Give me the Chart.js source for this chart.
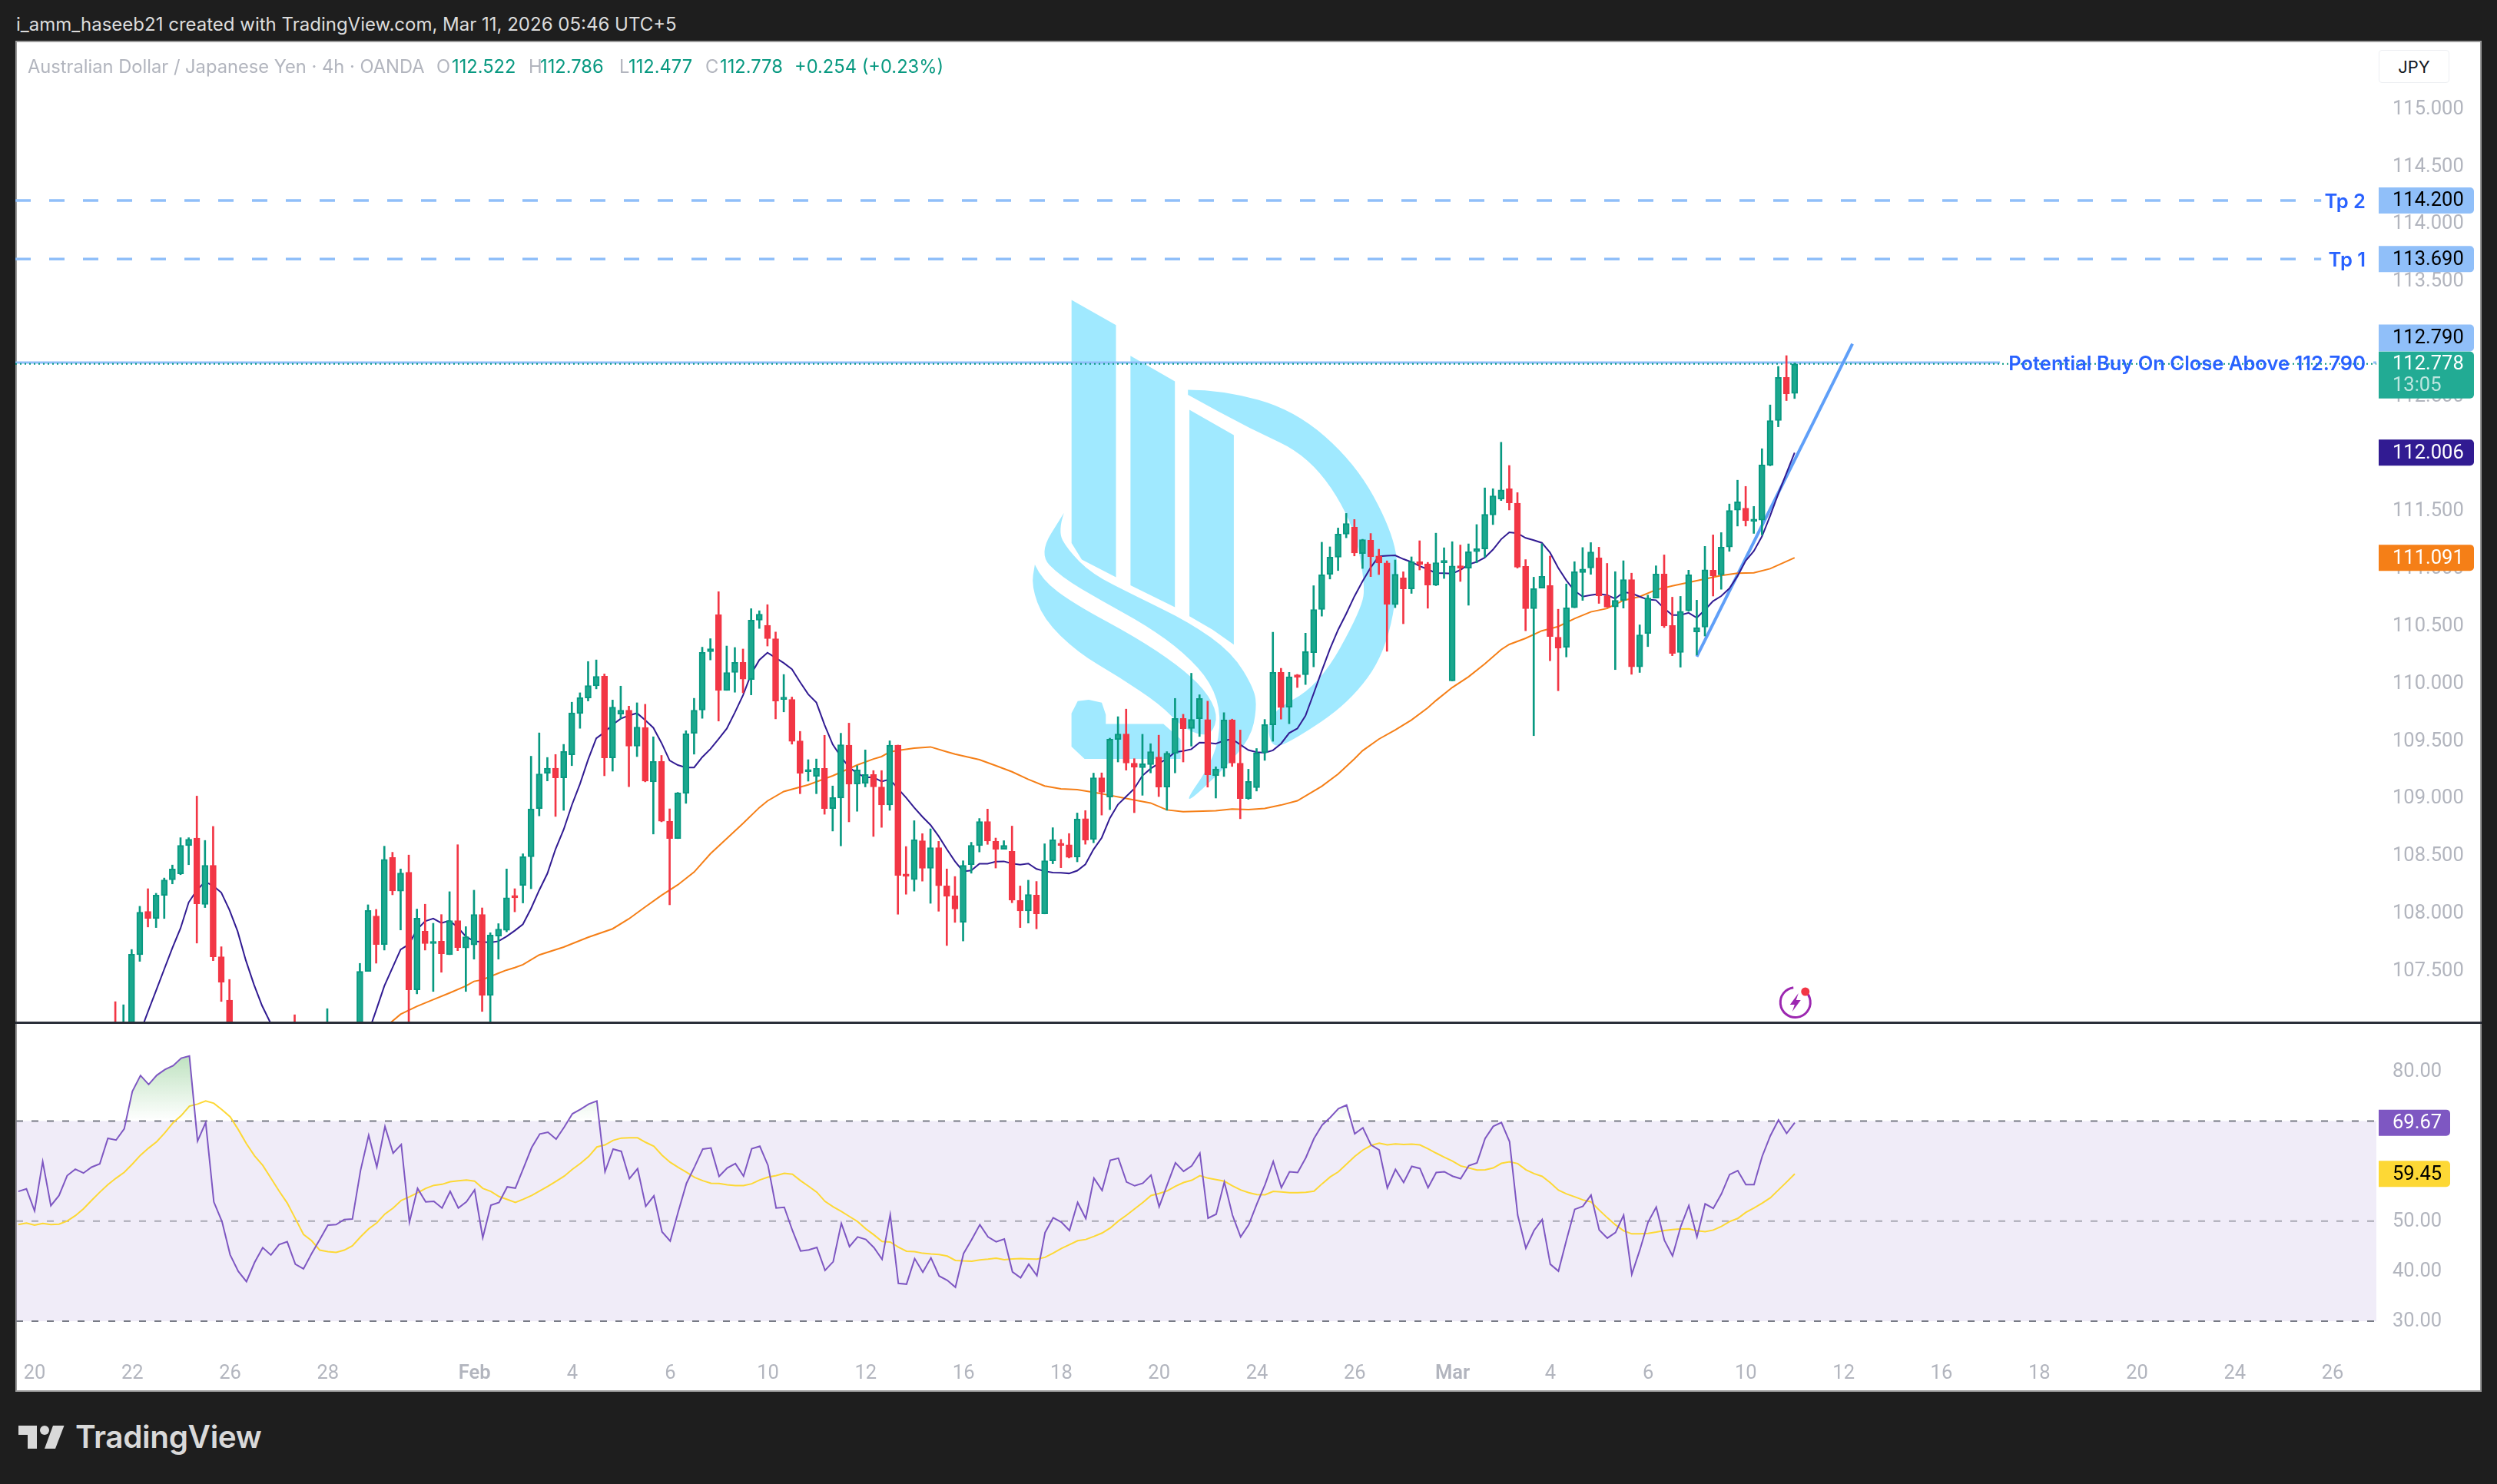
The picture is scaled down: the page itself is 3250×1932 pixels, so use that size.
<!DOCTYPE html>
<html>
<head>
<meta charset="utf-8">
<title>AUD/JPY 4h</title>
<script src="https://cdn.jsdelivr.net/npm/chart.js@4"></script>
<style>
    html, body { margin: 0; padding: 0; width: 3250px; height: 1932px; overflow: hidden; background: #1e1e1e; font-family: Inter, sans-serif; }
    .abs { position: absolute; white-space: nowrap; }
    #frame { left: 20px; top: 53px; width: 3210px; height: 1759px; box-sizing: border-box; background: #fff; border: 2px solid #9a9a9a; }
    #divider { left: 20px; top: 1330px; width: 3210px; height: 3px; background: #2a2e39; z-index: 3; }
    #mainCanvas { position: absolute; left: 20px; top: 54px; z-index: 2; }
    #rsiCanvas { position: absolute; left: 20px; top: 1333px; z-index: 2; }
    #header { left: 21px; top: 18px; font-size: 24px; line-height: 28px; color: #dcdcdc; }
    .legend { top: 73px; font-size: 23.7px; line-height: 28px; color: #b2b5be; z-index: 4; }
    .legend.val { color: #089981; }
    #jpy { left: 3096px; top: 65px; width: 92px; height: 43px; line-height: 43px; text-align: center; font-size: 22px; color: #131722; background: #fff; box-sizing: border-box; border: 1px solid #eceef2; border-radius: 4px; z-index: 4; }
    #brand { left: 98px; top: 1846px; font-size: 40.5px; line-height: 50px; font-weight: 600; color: #d9d9d9; letter-spacing: -0.4px; }
    #brandIcon { position: absolute; left: 24px; top: 1856px; }
</style>
</head>
<body>
<div id="header" class="abs">i_amm_haseeb21 created with TradingView.com, Mar 11, 2026 05:46 UTC+5</div>
<div id="frame" class="abs"></div>
<div class="abs legend" style="left:36px">Australian Dollar / Japanese Yen · 4h · OANDA</div>
<div class="abs legend" style="left:568px">O</div><div class="abs legend val" style="left:588px">112.522</div>
<div class="abs legend" style="left:688px">H</div><div class="abs legend val" style="left:703px">112.786</div>
<div class="abs legend" style="left:806px">L</div><div class="abs legend val" style="left:818px">112.477</div>
<div class="abs legend" style="left:918px">C</div><div class="abs legend val" style="left:937px">112.778</div>
<div class="abs legend val" style="left:1034px">+0.254 (+0.23%)</div>
<div id="jpy" class="abs">JPY</div>
<canvas id="mainCanvas" width="3210" height="1277"></canvas>
<div id="divider" class="abs"></div>
<canvas id="rsiCanvas" width="3210" height="478"></canvas>
<svg id="brandIcon" width="60" height="30" viewBox="0 0 60 30"><path fill="#d9d9d9" d="M0 0H24V30H12V12H0Z"/><circle fill="#d9d9d9" cx="34" cy="6" r="6"/><path fill="#d9d9d9" d="M45 0H59.5L48 30H34Z"/></svg>
<div id="brand" class="abs">TradingView</div>

<script>
// Bars are numbered so that bar 0 is the "20" date tick, last bar is 216
const firstRsiBar = -2;
const firstCandleBar = 10;
const lastBar = 216;

const timeBars = [0, 12, 24, 36, 54, 66, 78, 90, 102, 114, 126, 138, 150, 162, 174, 186, 198, 210, 222, 234, 246, 258, 270, 282];
const timeLabels = ['20', '22', '26', '28', 'Feb', '4', '6', '10', '12', '16', '18', '20', '24', '26', 'Mar', '4', '6', '10', '12', '16', '18', '20', '24', '26'];
const priceTicks = [107.5, 108, 108.5, 109, 109.5, 110, 110.5, 111, 111.5, 112, 112.5, 113, 113.5, 114, 114.5, 115];
const rsiTicks = [30, 40, 50, 60, 70, 80];

// Candles, bar 10 onward. null = candle sits completely under the pane.
const opens = [
    106.98, 106.85, 106.95, 107.637, 108.013, 107.952, 108.153, 108.288, 108.341, 108.586,
    108.652, 108.074, 108.415, 107.619, 107.241, null, null, null, null, null,
    null, null, 106.98, null, null, null, 106.85, null, null, null,
    106.95, 107.492, 107.973, 107.725, 108.483, 108.19, 108.354, 107.331, 107.841, 107.733,
    107.754, 107.637, 107.933, 107.696, 107.722, 107.986, 107.283, 107.799, 107.849, 108.145,
    108.24, 108.489, 108.909, 109.216, 109.26, 109.176, 109.377, 109.736, 109.871, 109.977,
    110.061, 109.35, 109.731, 109.765, 109.451, 109.615, 109.141, 109.319, 108.798, 108.647,
    109.041, 109.564, 109.765, 110.273, 110.595, 109.937, 110.093, 110.18, 110.032, 110.548,
    110.503, 110.387, 109.858, 109.858, 109.498, 109.229, 109.189, 109.258, 108.909, 109.001,
    109.461, 109.123, 109.128, 109.205, 109.097, 108.941, 109.461, 108.33, 108.29, 108.629,
    108.388, 108.568, 108.235, 108.148, 107.92, 108.42, 108.586, 108.795, 108.623, 108.555,
    108.536, 108.108, 108.018, 108.156, 107.992, 108.454, 108.595, 108.593, 108.487, 108.82,
    108.64, 109.177, 109.008, 109.51, 109.558, 109.304, 109.264, 109.291, 109.357, 109.095,
    109.388, 109.692, 109.605, 109.69, 109.682, 109.195, 109.259, 109.679, 109.304, 108.995,
    109.09, 109.394, 109.637, 110.094, 109.79, 110.062, 110.073, 110.266, 110.641, 110.948,
    111.096, 111.297, 111.358, 111.128, 111.244, 111.107, 111.046, 110.684, 110.916, 110.821,
    111.056, 111.038, 110.853, 111.048, 110.02, 111.022, 111.001, 111.144, 111.167, 111.464,
    111.602, 111.692, 111.566, 111.016, 110.648, 110.827, 110.85, 110.4, 110.313, 110.656,
    110.963, 111.003, 111.09, 110.76, 110.663, 110.72, 110.901, 110.141, 110.433, 110.74,
    110.95, 110.502, 110.267, 110.63, 110.446, 110.487, 110.983, 110.942, 111.185, 111.505,
    111.523, 111.408, 111.418, 111.896, 112.285, 112.661, 112.522
];
const highs = [
    107.228, 107.201, 107.682, 108.058, 108.211, 108.171, 108.304, 108.417, 108.655, 108.655,
    109.017, 108.631, 108.753, 107.706, 107.421, null, null, null, null, null,
    null, null, 107.114, null, null, null, 107.167, null, null, null,
    107.561, 108.071, 108.031, 108.581, 108.528, 108.383, 108.504, 108.034, 108.076, 107.91,
    107.986, 108.185, 108.594, 107.881, 108.198, 108.044, 107.828, 107.907, 108.383, 108.211,
    108.515, 109.364, 109.567, 109.353, 109.379, 109.467, 109.834, 109.916, 110.188, 110.202,
    110.08, 109.853, 109.974, 109.8, 109.829, 109.816, 109.533, 109.371, 108.906, 109.049,
    109.586, 109.868, 110.313, 110.387, 110.796, 110.323, 110.31, 110.297, 110.648, 110.63,
    110.683, 110.445, 110.075, 109.879, 109.58, 109.334, 109.34, 109.546, 109.105, 109.564,
    109.652, 109.282, 109.419, 109.239, 109.239, 109.498, 109.461, 108.578, 108.803, 108.69,
    108.732, 108.623, 108.383, 108.317, 108.454, 108.615, 108.822, 108.904, 108.652, 108.629,
    108.756, 108.235, 108.285, 108.274, 108.602, 108.742, 108.64, 108.691, 108.87, 108.891,
    109.217, 109.219, 109.521, 109.708, 109.774, 109.343, 109.555, 109.473, 109.547, 109.404,
    109.867, 109.729, 110.086, 109.899, 109.843, 109.272, 109.743, 109.687, 109.592, 109.251,
    109.431, 109.684, 110.443, 110.129, 110.094, 110.076, 110.435, 110.848, 111.226, 111.186,
    111.35, 111.477, 111.424, 111.252, 111.302, 111.165, 111.064, 111.072, 110.969, 111.099,
    111.239, 111.051, 111.305, 111.178, 111.231, 111.202, 111.212, 111.38, 111.699, 111.692,
    112.096, 111.894, 111.658, 111.075, 110.922, 111.213, 111.106, 110.643, 110.863, 111.057,
    111.18, 111.223, 111.183, 111.042, 110.97, 111.065, 110.957, 110.507, 110.766, 111.021,
    111.116, 110.748, 110.755, 110.983, 110.722, 111.19, 111.29, 111.31, 111.559, 111.766,
    111.712, 111.538, 112.04, 112.421, 112.756, 112.85, 112.786
];
const lows = [
    106.85, 106.8, 106.9, 107.579, 107.878, 107.873, 107.952, 108.253, 108.333, 108.42,
    107.738, 108.047, 107.585, 107.23, 106.9, null, null, null, null, null,
    null, null, 106.8, null, null, null, 106.8, null, null, null,
    106.9, 107.492, 107.563, 107.677, 108.158, 107.852, 106.95, 107.296, 107.677, 107.317,
    107.484, 107.637, 107.672, 107.317, 107.598, 107.143, 106.95, 107.598, 107.836, 108.01,
    108.087, 108.211, 108.845, 109.149, 108.84, 108.893, 109.282, 109.607, 109.845, 109.95,
    109.194, 109.234, 109.691, 109.099, 109.361, 109.141, 108.687, 108.793, 108.071, 108.647,
    108.954, 109.382, 109.694, 110.202, 109.67, 109.937, 109.921, 109.916, 109.898, 110.476,
    110.323, 109.689, 109.75, 109.469, 109.038, 109.147, 109.038, 108.859, 108.713, 108.584,
    108.793, 108.885, 109.097, 108.666, 108.745, 108.893, 107.989, 108.163, 108.19, 108.277,
    108.084, 108.015, 107.717, 107.918, 107.756, 108.346, 108.531, 108.597, 108.391, 108.555,
    108.089, 107.873, 107.912, 107.862, 107.992, 108.428, 108.394, 108.479, 108.445, 108.598,
    108.611, 108.852, 108.899, 109.314, 109.243, 108.873, 109.024, 109.219, 109.013, 108.894,
    109.219, 109.314, 109.452, 109.536, 109.095, 109.0, 109.188, 109.275, 108.82, 108.989,
    109.061, 109.328, 109.494, 109.687, 109.647, 109.962, 109.988, 110.142, 110.583, 110.906,
    110.98, 111.265, 111.107, 110.998, 110.927, 110.945, 110.277, 110.657, 110.517, 110.781,
    110.985, 110.652, 110.848, 110.911, 110.02, 110.885, 110.678, 111.047, 111.096, 111.38,
    111.589, 111.507, 111.001, 110.456, 109.543, 110.827, 110.195, 109.934, 110.228, 110.656,
    110.72, 110.947, 110.694, 110.661, 110.118, 110.653, 110.077, 110.093, 110.318, 110.74,
    110.484, 110.239, 110.139, 110.625, 110.246, 110.41, 110.758, 110.817, 111.147, 111.367,
    111.367, 111.303, 111.29, 111.891, 112.231, 112.459, 112.477
];
const closes = [
    106.9, 106.98, 107.64, 108.007, 107.952, 108.156, 108.288, 108.383, 108.589, 108.642,
    108.079, 108.415, 107.619, 107.397, 106.95, null, null, null, null, null,
    null, null, 106.9, null, null, null, 106.98, null, null, null,
    107.492, 108.021, 107.725, 108.467, 108.192, 108.348, 107.331, 107.955, 107.733, 107.748,
    107.645, 107.933, 107.698, 107.793, 107.986, 107.283, 107.807, 107.86, 108.132, 108.132,
    108.489, 108.906, 109.21, 109.26, 109.176, 109.406, 109.742, 109.874, 109.979, 110.059,
    109.35, 109.792, 109.765, 109.451, 109.617, 109.147, 109.319, 108.798, 108.647, 109.044,
    109.559, 109.765, 110.268, 110.299, 109.937, 110.093, 110.18, 110.035, 110.548, 110.601,
    110.387, 109.845, 109.866, 109.493, 109.216, 109.239, 109.258, 108.909, 109.004, 109.464,
    109.12, 109.245, 109.205, 109.097, 108.941, 109.461, 108.327, 108.319, 108.637, 108.388,
    108.568, 108.237, 108.145, 108.034, 108.415, 108.589, 108.795, 108.626, 108.555, 108.589,
    108.111, 108.018, 108.161, 107.992, 108.454, 108.637, 108.587, 108.484, 108.817, 108.635,
    109.177, 109.05, 109.513, 109.558, 109.304, 109.267, 109.299, 109.404, 109.095, 109.391,
    109.692, 109.603, 109.684, 109.867, 109.203, 109.254, 109.679, 109.304, 108.995, 109.145,
    109.394, 109.639, 110.094, 109.788, 110.055, 110.052, 110.274, 110.641, 110.943, 111.096,
    111.297, 111.389, 111.133, 111.249, 111.101, 111.046, 110.686, 110.948, 110.821, 111.056,
    111.033, 110.853, 111.048, 111.062, 111.019, 111.001, 111.144, 111.17, 111.469, 111.63,
    111.681, 111.569, 111.009, 110.648, 110.822, 110.929, 110.405, 110.305, 110.656, 110.97,
    110.993, 111.142, 110.76, 110.661, 110.72, 110.901, 110.141, 110.42, 110.74, 110.95,
    110.497, 110.259, 110.625, 110.942, 110.484, 110.986, 110.932, 111.183, 111.502, 111.577,
    111.413, 111.418, 111.899, 112.285, 112.661, 112.518, 112.778
];

// Fast moving average (blue), per bar. null = under the pane.
const fastMaFirstBar = 13;
const fastMa = [
    106.95, 107.14, 107.325, 107.511, 107.696, 107.867, 108.092, 108.198, 108.272, 108.237,
    108.177, 108.026, 107.841, 107.59, 107.378, 107.193, 107.048, 106.88, null, null,
    null, null, null, null, null, null, null, null, 106.95, 107.154,
    107.365, 107.524, 107.682, 107.727, 107.854, 107.928, 107.952, 107.912, 107.933, 107.875,
    107.796, 107.754, 107.748, 107.743, 107.754, 107.796, 107.846, 107.902, 108.039, 108.198,
    108.343, 108.555, 108.726, 108.938, 109.123, 109.335, 109.52, 109.572, 109.638, 109.691,
    109.718, 109.739, 109.678, 109.612, 109.48, 109.327, 109.287, 109.266, 109.266, 109.356,
    109.427, 109.514, 109.604, 109.744, 109.895, 110.08, 110.202, 110.265, 110.22, 110.175,
    110.122, 110.009, 109.903, 109.831, 109.638, 109.467, 109.361, 109.268, 109.216, 109.181,
    109.181, 109.144, 109.163, 109.083, 109.004, 108.917, 108.838, 108.766, 108.668, 108.555,
    108.449, 108.362, 108.37, 108.428, 108.428, 108.446, 108.449, 108.43, 108.42, 108.43,
    108.383, 108.364, 108.351, 108.35, 108.344, 108.368, 108.423, 108.553, 108.654, 108.825,
    108.944, 109.013, 109.082, 109.195, 109.256, 109.301, 109.341, 109.399, 109.409, 109.425,
    109.483, 109.481, 109.473, 109.499, 109.513, 109.465, 109.417, 109.399, 109.394, 109.415,
    109.473, 109.566, 109.605, 109.716, 109.909, 110.107, 110.298, 110.464, 110.604, 110.755,
    110.887, 111.006, 111.104, 111.109, 111.112, 111.08, 111.054, 111.019, 110.99, 110.959,
    110.956, 110.953, 110.985, 111.033, 111.055, 111.093, 111.162, 111.252, 111.313, 111.305,
    111.264, 111.244, 111.221, 111.136, 111.003, 110.894, 110.804, 110.753, 110.766, 110.776,
    110.766, 110.735, 110.791, 110.783, 110.753, 110.727, 110.722, 110.65, 110.592, 110.592,
    110.612, 110.569, 110.638, 110.714, 110.758, 110.824, 110.932, 111.065, 111.149, 111.277,
    111.456, 111.648, 111.827, 112.006
];

// Slow moving average (orange), read at its bends
const slowMaBars = [
    43, 45, 47, 49, 51, 53, 54, 55, 57, 58, 59, 60, 62, 65, 68, 71, 73, 75, 77, 79, 81, 83, 85, 87, 89, 90, 92, 95, 98,
    101, 103, 104, 105, 106, 108, 110, 112, 113, 116, 118, 120, 122, 124, 126, 128, 130, 132, 134, 137, 139, 141, 145,
    147, 149, 151, 153, 155, 158, 160, 162, 163, 165, 167, 169, 171, 172, 174, 176, 178, 180, 181, 183, 185, 187, 189,
    191, 193, 195, 197, 199, 201, 203, 205, 207, 209, 211, 213, 215, 216
];
const slowMa = [
    107.0, 107.119, 107.188, 107.246, 107.304, 107.365, 107.405, 107.418, 107.476, 107.503, 107.524, 107.55, 107.635,
    107.703, 107.788, 107.862, 107.949, 108.052, 108.153, 108.245, 108.356, 108.515, 108.647, 108.779, 108.917, 108.975,
    109.057, 109.115, 109.194, 109.287, 109.34, 109.361, 109.401, 109.414, 109.435, 109.445, 109.403, 109.382, 109.334,
    109.282, 109.229, 109.163, 109.105, 109.08, 109.074, 109.05, 109.024, 108.997, 108.957, 108.897, 108.881, 108.889,
    108.905, 108.899, 108.91, 108.939, 108.976, 109.103, 109.209, 109.341, 109.412, 109.513, 109.592, 109.679, 109.785,
    109.848, 109.962, 110.055, 110.168, 110.292, 110.337, 110.39, 110.456, 110.492, 110.561, 110.62, 110.65, 110.72,
    110.753, 110.812, 110.847, 110.876, 110.906, 110.937, 110.957, 110.96, 110.996, 111.06, 111.091
];

// RSI and its moving average, per bar from bar -2
const rsi = [
    55.94, 56.45, 52.06, 61.91, 53.08, 55.12, 59.10, 60.38, 59.61, 60.79, 61.45, 66.55,
    66.20, 68.44, 75.95, 79.11, 77.32, 79.16, 80.29, 81.05, 82.58, 82.99, 65.99, 69.72,
    53.84, 49.91, 43.28, 39.96, 37.92, 41.75, 44.71, 43.23, 45.32, 45.88, 41.39, 40.47,
    43.53, 46.34, 49.20, 49.30, 50.32, 50.42, 60.12, 67.17, 60.84, 68.90, 63.59, 65.33,
    49.81, 56.55, 53.84, 53.97, 52.62, 55.94, 52.62, 53.89, 56.24, 46.70, 53.18, 53.74,
    56.85, 56.60, 60.63, 64.70, 67.42, 67.78, 66.40, 68.80, 71.45, 72.37, 73.39, 74.01,
    59.87, 64.41, 63.95, 58.49, 60.48, 52.97, 55.07, 47.87, 46.03, 51.95, 57.57, 60.89,
    64.41, 64.61, 58.95, 60.63, 61.50, 58.99, 64.46, 64.97, 61.14, 52.62, 52.77, 48.13,
    44.04, 44.25, 44.76, 40.16, 41.90, 49.56, 44.91, 46.85, 46.34, 44.71, 42.36, 51.29,
    37.56, 37.41, 42.51, 39.81, 42.66, 39.04, 38.17, 36.79, 43.53, 46.34, 49.30, 46.85,
    45.88, 46.44, 39.86, 38.68, 41.39, 39.09, 47.72, 50.68, 49.81, 48.13, 53.74, 50.52,
    58.59, 56.14, 62.16, 62.57, 57.82, 57.06, 57.57, 59.20, 52.87, 57.31, 61.65, 59.97,
    61.04, 63.59, 50.58, 51.39, 57.82, 51.19, 46.85, 49.30, 53.49, 57.31, 61.91, 56.70,
    59.87, 59.71, 62.67, 66.50, 69.21, 70.74, 72.47, 73.19, 67.47, 68.65, 65.23, 64.21,
    56.65, 60.33, 57.72, 60.94, 60.53, 56.70, 59.71, 59.87, 58.99, 58.49, 61.09, 61.65,
    66.50, 68.95, 69.72, 65.89, 51.19, 44.60, 48.13, 50.32, 41.39, 40.01, 46.34, 52.36,
    52.97, 55.22, 48.23, 46.60, 47.72, 51.19, 39.35, 44.30, 49.81, 52.82, 46.19, 43.07,
    48.89, 53.13, 46.85, 53.45, 52.55, 55.45, 59.30, 60.09, 57.30, 57.30, 62.94, 67.05,
    70.22, 67.53, 69.67
];
const rsiMa = [
    49.30, 49.61, 49.20, 49.56, 49.30, 49.40, 50.02, 51.09, 52.46, 54.15, 55.78, 57.31,
    58.59, 59.76, 61.40, 63.18, 64.61, 65.89, 67.68, 69.67, 71.10, 72.99, 73.39, 74.01,
    73.55, 72.27, 70.84, 68.29, 65.48, 63.03, 61.14, 58.59, 56.04, 53.64, 50.53, 47.36,
    46.08, 44.20, 43.89, 43.74, 44.20, 45.06, 46.85, 48.48, 49.66, 51.44, 52.62, 54.15,
    54.86, 55.68, 56.55, 57.16, 57.36, 57.88, 58.08, 58.23, 57.98, 56.55, 55.94, 54.92,
    54.35, 53.74, 54.40, 55.12, 56.04, 56.96, 57.98, 59.00, 60.38, 61.55, 62.93, 64.82,
    65.23, 66.15, 66.60, 66.66, 66.66, 65.74, 64.97, 63.18, 61.76, 60.73, 59.76, 58.74,
    58.08, 57.57, 57.52, 57.26, 57.11, 57.11, 57.47, 58.23, 58.79, 59.10, 59.56, 59.36,
    58.08, 56.96, 55.78, 53.95, 52.87, 51.95, 50.93, 49.91, 48.48, 47.26, 45.93, 45.83,
    44.81, 43.99, 43.89, 43.58, 43.43, 43.33, 43.02, 42.15, 42.05, 42.00, 42.26, 42.41,
    42.61, 42.31, 42.46, 42.51, 42.46, 42.41, 42.77, 43.63, 44.55, 45.32, 46.08, 46.34,
    46.95, 47.62, 48.64, 50.02, 51.19, 52.46, 53.74, 55.12, 55.53, 56.04, 56.96, 57.72,
    58.18, 59.10, 58.59, 58.28, 57.98, 57.06, 56.24, 55.68, 55.32, 55.27, 55.94, 55.83,
    55.68, 55.68, 55.78, 55.99, 57.47, 58.85, 59.87, 61.40, 62.93, 64.21, 65.12, 65.58,
    65.23, 65.43, 65.33, 65.38, 65.23, 64.46, 63.59, 62.78, 62.01, 61.04, 60.63, 60.22,
    60.27, 60.63, 61.55, 61.86, 61.50, 60.27, 59.51, 58.95, 57.67, 56.19, 55.43, 54.86,
    54.25, 53.84, 52.21, 50.68, 49.25, 48.08, 47.46, 47.46, 47.56, 47.82, 48.13, 48.33,
    48.43, 48.48, 48.07, 47.91, 48.22, 48.96, 49.91, 50.54, 51.76, 52.65, 53.60, 54.66,
    56.24, 57.82, 59.45
];

// Drawn levels and the trend ray
const tp2Level = 114.2;
const tp1Level = 113.69;
const buyLevel = 112.79;
const lastPrice = 112.778;
const lastFastMa = 112.006;
const lastSlowMa = 111.091;
const lastRsi = 69.67;
const lastRsiMa = 59.45;
const trendBars = [204, 223.1];
const trendPrices = [110.23, 112.953];

// Axis windows. One bar is 10.61px and the plot starts 24px left of bar 0.
const barMin = -2.262;
const barMax = 287.37;
const priceMin = 107.048;
const priceMax = 115.584;
const rsiMin = 24.64;
const rsiMax = 89.265;

const GREEN = '#089981';
const GREEN_FILL = '#1ba88e';
const RED = '#f23645';
const LEVEL_BLUE = '#90bff9';
const TEXT_BLUE = '#2962ff';
const TICK_GREY = '#b2b5be';
const AXIS_WIDTH = 137;
// Roboto has even digit widths like the axis numbers in the picture
const AXIS_FONT = 'Roboto, sans-serif';
const AXIS_SIZE = 25.5;

Chart.defaults.font.family = AXIS_FONT;
Chart.defaults.font.size = AXIS_SIZE;

const perBar = (first, values) => values.map((v, i) => ({ x: first + i, y: v }));
const pairs = (xs, ys) => xs.map((x, i) => ({ x, y: ys[i] }));
const level = (value, from, to) => [{ x: from, y: value }, { x: to, y: value }];

// Floating bars for wicks and bodies, skipping candles that are off the pane
const wickData = [];
const bodyData = [];
opens.forEach((open, i) => {
    if (open === null) return;
    const bar = firstCandleBar + i;
    wickData.push({ x: bar, y: [lows[i], highs[i]] });
    bodyData.push({ x: bar, y: [open, closes[i]] });
});
const isUp = ctx => {
    if (!ctx.raw) return true;
    const i = ctx.raw.x - firstCandleBar;
    return closes[i] >= opens[i];
};

function lineSet(data, color, width, order, dash) {
    return {
        type: 'line', data, borderColor: color, borderWidth: width, borderDash: dash || [],
        pointRadius: 0, tension: 0, fill: false, order, spanGaps: false
    };
}

// Shapes of the watermark logo, in page pixels
const logoPolys = [
    [[1394.7, 390.4], [1452.5, 423.3], [1452.5, 751.6], [1408, 728.6], [1394.7, 706.9]],
    [[1471.4, 463.2], [1529.2, 496.6], [1529.2, 790.6], [1471.4, 762]],
    [[1548.1, 533.5], [1605.9, 566.4], [1605.9, 839.2], [1578.2, 819.7], [1548.1, 802.3]],
    [[1394.6, 928.7], [1402.7, 912.8], [1417, 910.9], [1434, 914.8], [1439.3, 930.6], [1439.3, 942.5], [1514.3, 942.5], [1536.6, 962.3], [1536.6, 988], [1411.6, 988], [1394.6, 972]]
];
const logoCurves = [
    // upper swoosh
    [[1384.8, 667.7], [1376.8, 691.4], [1389.3, 715], [1420.5, 746.8], [1478.6, 776.4], [1548, 810], [1603.6, 849.6], [1632.6, 897], [1635.7, 922.7], [1628, 960.3], [1594.6, 999.8], [1534.4, 1055.2], [1581, 988], [1590, 932.6], [1576.8, 889], [1541, 849.6], [1492, 814], [1434, 782.3], [1380.4, 750.7], [1351.8, 721], [1384.8, 667.7]],
    // lower swoosh
    [[1346.9, 734.9], [1355.8, 754.7], [1398.2, 786.3], [1478.6, 829.8], [1532, 865.4], [1567.9, 897], [1585.7, 930.6], [1576.8, 956.3], [1559, 956.3], [1536.6, 944.5], [1509.8, 916.8], [1456, 881], [1402.7, 849.6], [1358, 806], [1342.4, 762.6], [1346.9, 734.9]],
    // D ring
    [[1546.2, 507.4], [1590, 507.4], [1685, 533.5], [1764, 602.8], [1811.5, 689.6], [1822, 750.3], [1803.6, 850], [1756, 915], [1685, 962.8], [1653.3, 975.8], [1649.4, 928], [1716.6, 893.4], [1772, 793.6], [1777, 759], [1760, 676.6], [1704.7, 594], [1625.6, 557.3], [1546.2, 514]]
];

function drawLogo(ctx) {
    ctx.save();
    ctx.translate(-20, -54);
    ctx.fillStyle = '#a0e9ff';
    logoPolys.forEach(pts => {
        ctx.beginPath();
        pts.forEach((p, i) => (i ? ctx.lineTo(p[0], p[1]) : ctx.moveTo(p[0], p[1])));
        ctx.closePath();
        ctx.fill();
    });
    logoCurves.forEach(pts => {
        ctx.beginPath();
        ctx.moveTo(pts[0][0], pts[0][1]);
        for (let i = 1; i < pts.length - 1; i++) {
            const mx = (pts[i][0] + pts[i + 1][0]) / 2;
            const my = (pts[i][1] + pts[i + 1][1]) / 2;
            ctx.quadraticCurveTo(pts[i][0], pts[i][1], mx, my);
        }
        ctx.lineTo(pts[pts.length - 1][0], pts[pts.length - 1][1]);
        ctx.closePath();
        ctx.fill();
    });
    ctx.restore();
}

function drawTag(ctx, left, width, centerY, height, bg, lines) {
    ctx.save();
    ctx.fillStyle = bg;
    ctx.beginPath();
    ctx.roundRect(left, centerY - height / 2, width, height, [0, 5, 5, 0]);
    ctx.fill();
    ctx.font = AXIS_SIZE + 'px ' + AXIS_FONT;
    ctx.textBaseline = 'middle';
    ctx.textAlign = 'left';
    lines.forEach(l => {
        ctx.fillStyle = l.color;
        ctx.fillText(l.text, left + 18, l.y + 1);
    });
    ctx.restore();
}

// Events icon at the bottom of the price pane
function drawEventIcon(ctx, cx, cy) {
    ctx.save();
    ctx.strokeStyle = '#9c27b0';
    ctx.lineWidth = 3;
    ctx.beginPath();
    ctx.arc(cx, cy, 19.5, -0.9, Math.PI * 2 - 1.7);
    ctx.stroke();
    ctx.fillStyle = '#9c27b0';
    ctx.beginPath();
    ctx.moveTo(cx + 4, cy - 12);
    ctx.lineTo(cx - 7, cy + 3);
    ctx.lineTo(cx - 1, cy + 3);
    ctx.lineTo(cx - 4, cy + 12);
    ctx.lineTo(cx + 7, cy - 3);
    ctx.lineTo(cx + 1, cy - 3);
    ctx.closePath();
    ctx.fill();
    ctx.fillStyle = RED;
    ctx.beginPath();
    ctx.arc(cx + 13, cy - 14, 5.5, 0, Math.PI * 2);
    ctx.fill();
    ctx.restore();
}

const mainOverlay = {
    id: 'mainOverlay',
    beforeDatasetsDraw(chart) {
        drawLogo(chart.ctx);
    },
    afterDatasetsDraw(chart) {
        const { ctx, scales } = chart;
        const y = scales.y;
        ctx.save();
        ctx.font = '600 25.5px Inter, sans-serif';
        ctx.fillStyle = TEXT_BLUE;
        ctx.textAlign = 'right';
        ctx.textBaseline = 'middle';
        ctx.fillText('Tp 2', 3059, y.getPixelForValue(tp2Level) + 2);
        ctx.fillText('Tp 1', 3059, y.getPixelForValue(tp1Level) + 2);
        ctx.fillText('Potential Buy On Close Above 112.790', 3059, y.getPixelForValue(buyLevel) + 2);
        ctx.restore();
        drawEventIcon(ctx, scales.x.getPixelForValue(lastBar) + 1, 1251);
    },
    afterDraw(chart) {
        const { ctx, scales } = chart;
        const y = scales.y;
        const left = chart.chartArea.right + 3;
        const tagW = 124;
        const simple = (value, bg, color) => {
            const cy = y.getPixelForValue(value);
            drawTag(ctx, left, tagW, cy, 34, bg, [{ text: value.toFixed(3), color, y: cy }]);
        };
        simple(tp2Level, LEVEL_BLUE, '#000');
        simple(tp1Level, LEVEL_BLUE, '#000');
        simple(lastFastMa, '#311b92', '#fff');
        simple(lastSlowMa, '#f57f17', '#fff');
        // the two tags around the last price are stacked, not on their own level
        const buyY = y.getPixelForValue(buyLevel);
        drawTag(ctx, left, tagW, buyY - 32, 35, LEVEL_BLUE, [{ text: buyLevel.toFixed(3), color: '#000', y: buyY - 32 }]);
        const lastY = y.getPixelForValue(lastPrice);
        drawTag(ctx, left, tagW, lastY + 14.5, 61, '#22ab94', [
            { text: lastPrice.toFixed(3), color: '#fff', y: lastY },
            { text: '13:05', color: 'rgba(255,255,255,0.7)', y: lastY + 28 }
        ]);
    }
};

const rsiOverlay = {
    id: 'rsiOverlay',
    beforeDatasetsDraw(chart) {
        const { ctx, chartArea, scales } = chart;
        const y = scales.y;
        const top = y.getPixelForValue(70);
        const bottom = y.getPixelForValue(30);
        ctx.save();
        ctx.fillStyle = 'rgba(126,87,194,0.115)';
        ctx.fillRect(chartArea.left, top, chartArea.width, bottom - top);
        ctx.lineWidth = 2;
        ctx.setLineDash([9, 11]);
        [[70, '#787b86'], [50, 'rgba(120,123,134,0.6)'], [30, '#787b86']].forEach(([value, color]) => {
            const py = y.getPixelForValue(value);
            ctx.strokeStyle = color;
            ctx.beginPath();
            ctx.moveTo(chartArea.left, py);
            ctx.lineTo(chartArea.right, py);
            ctx.stroke();
        });
        ctx.restore();
    },
    afterDraw(chart) {
        const { ctx, scales } = chart;
        const y = scales.y;
        const left = chart.chartArea.right + 3;
        const tag = (value, bg, color) => {
            const cy = y.getPixelForValue(value);
            drawTag(ctx, left, 93, cy, 34, bg, [{ text: value.toFixed(2), color, y: cy }]);
        };
        tag(lastRsi, '#7e57c2', '#fff');
        tag(lastRsiMa, '#fdd835', '#000');
    }
};

// Right axis with a fixed width so both panes line up
function fixedRightAxis(min, max, ticks, digits) {
    return {
        type: 'linear', position: 'right', min, max, bounds: 'data',
        grid: { display: false, drawTicks: false },
        border: { display: false },
        afterBuildTicks: axis => { axis.ticks = ticks.map(value => ({ value })); },
        afterFit: axis => {
            axis.width = AXIS_WIDTH;
            axis.paddingTop = 0;
            axis.paddingBottom = 0;
        },
        ticks: {
            color: TICK_GREY, padding: 21, autoSkip: false, crossAlign: 'near', labelOffset: 1,
            callback: v => Number(v).toFixed(digits)
        }
    };
}

const sharedOptions = {
    responsive: false,
    animation: false,
    events: [],
    layout: { padding: 0 },
    plugins: { legend: { display: false }, tooltip: { enabled: false } }
};

const mainChart = new Chart(document.getElementById('mainCanvas'), {
    type: 'bar',
    data: {
        datasets: [
            { label: 'wick', data: wickData, barThickness: 2, grouped: false, order: 2, borderWidth: 0,
              backgroundColor: ctx => (isUp(ctx) ? GREEN : RED) },
            { label: 'body', data: bodyData, barThickness: 8, grouped: false, order: 1, minBarLength: 3,
              borderWidth: 2, borderSkipped: false,
              backgroundColor: ctx => (isUp(ctx) ? GREEN_FILL : RED),
              borderColor: ctx => (isUp(ctx) ? GREEN : RED) },
            lineSet(perBar(fastMaFirstBar, fastMa), '#311b92', 2, 3),
            lineSet(pairs(slowMaBars, slowMa), '#f57f17', 2, 4),
            lineSet(pairs(trendBars, trendPrices), '#5f9ff8', 4, 5),
            lineSet(level(tp2Level, barMin, 280.6), LEVEL_BLUE, 3.5, 7, [20, 24]),
            lineSet(level(tp1Level, barMin, 280.6), LEVEL_BLUE, 3.5, 7, [20, 24]),
            lineSet(level(buyLevel, barMin, 241.2), LEVEL_BLUE, 3, 7),
            lineSet(level(buyLevel, 287, barMax), LEVEL_BLUE, 3, 7),
            lineSet(level(lastPrice, barMin, barMax), GREEN, 2, 6, [2, 4])
        ]
    },
    options: {
        ...sharedOptions,
        scales: {
            x: { type: 'linear', display: false, offset: false, min: barMin, max: barMax, bounds: 'data', grid: { offset: false } },
            y: fixedRightAxis(priceMin, priceMax, priceTicks, 3)
        }
    },
    plugins: [mainOverlay]
});

const rsiChart = new Chart(document.getElementById('rsiCanvas'), {
    type: 'line',
    data: {
        datasets: [
            lineSet(perBar(firstRsiBar, rsi), '#7e57c2', 2, 1),
            lineSet(perBar(firstRsiBar, rsiMa), '#fdd835', 2, 2)
        ]
    },
    options: {
        ...sharedOptions,
        scales: {
            x: {
                type: 'linear', min: barMin, max: barMax, bounds: 'data',
                grid: { display: false, drawTicks: false },
                border: { display: false },
                afterBuildTicks: axis => { axis.ticks = timeBars.map(value => ({ value })); },
                afterFit: axis => {
                    axis.height = 56;
                    axis.paddingLeft = 0;
                    axis.paddingRight = 0;
                },
                ticks: {
                    color: TICK_GREY, padding: 18, autoSkip: false, maxRotation: 0, minRotation: 0,
                    font: ctx => ({
                        size: AXIS_SIZE,
                        weight: ctx.tick && timeLabels[timeBars.indexOf(ctx.tick.value)].length === 3 ? '600' : '400'
                    }),
                    callback: v => timeLabels[timeBars.indexOf(v)]
                }
            },
            y: fixedRightAxis(rsiMin, rsiMax, rsiTicks, 2)
        }
    },
    plugins: [rsiOverlay]
});

// Overbought shading on the RSI, fading out towards the 70 line
const rsiY = rsiChart.scales.y;
const overbought = rsiChart.ctx.createLinearGradient(0, rsiY.getPixelForValue(85), 0, rsiY.getPixelForValue(70));
overbought.addColorStop(0, 'rgba(76,175,80,0.42)');
overbought.addColorStop(1, 'rgba(76,175,80,0)');
rsiChart.data.datasets[0].fill = { target: { value: 70 }, above: overbought, below: 'rgba(0,0,0,0)' };
rsiChart.update('none');
</script>
</body>
</html>
